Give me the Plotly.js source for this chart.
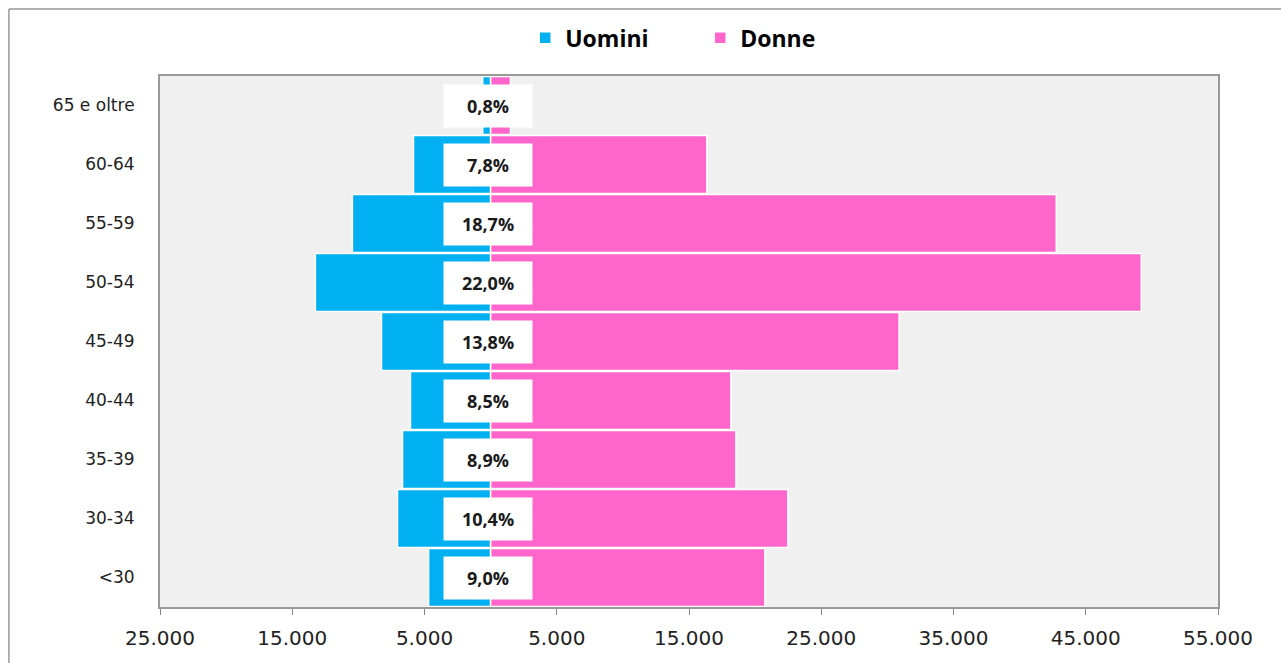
<!DOCTYPE html>
<html>
<head>
<meta charset="utf-8">
<script src="https://cdn.plot.ly/plotly-3.0.1.min.js"></script>
<style>html,body{margin:0;padding:0;background:#fff;}#chart{width:1281px;height:663px;}</style>
</head>
<body>
<div id="chart"></div>
<script>
// Categories bottom to top
const categories = ["<30", "30-34", "35-39", "40-44", "45-49", "50-54", "55-59", "60-64", "65 e oltre"];
const uomini = [4690, 7040, 6660, 6060, 8250, 13250, 10450, 5830, 600];
const donne = [20740, 22480, 18550, 18170, 30890, 49200, 42770, 16350, 1500];
const percentuali = ["9,0%", "10,4%", "8,9%", "8,5%", "13,8%", "22,0%", "18,7%", "7,8%", "0,8%"];
const tickVals = [-25000, -15000, -5000, 5000, 15000, 25000, 35000, 45000, 55000];
const tickText = ["25.000", "15.000", "5.000", "5.000", "15.000", "25.000", "35.000", "45.000", "55.000"];

const FONT = "Open Sans, Noto Sans, sans-serif";
const TICKFONT = "DejaVu Sans, Noto Sans, sans-serif";

const traces = [
  {
    type: "bar", orientation: "h", name: "<b>Uomini</b>",
    y: categories, x: uomini.map(v => -v),
    marker: {color: "#00B0F0", line: {color: "#ffffff", width: 1.5}},
    hoverinfo: "skip"
  },
  {
    type: "bar", orientation: "h", name: "<b>Donne</b>",
    y: categories, x: donne,
    marker: {color: "#FF66CC", line: {color: "#ffffff", width: 1.5}},
    hoverinfo: "skip"
  }
];

const annotations = categories.map((c, i) => ({
  x: 0, y: c, xref: "x", yref: "y",
  text: "<b>" + percentuali[i] + "</b>",
  showarrow: false,
  xanchor: "center", yanchor: "middle",
  xshift: -3,
  bgcolor: "#ffffff",
  width: 86, height: 40,
  font: {family: FONT, size: 18, color: "#1a1a1a"}
}));

const layout = {
  width: 1281, height: 663,
  margin: {l: 160, r: 63, t: 76, b: 56},
  paper_bgcolor: "#ffffff",
  plot_bgcolor: "#f0f0f0",
  barmode: "relative",
  bargap: 0.015,
  showlegend: true,
  legend: {
    orientation: "h", x: 0.41, xanchor: "left", xref: "container",
    y: 0.943, yanchor: "middle", yref: "container",
    bgcolor: "rgba(0,0,0,0)",
    font: {family: FONT, size: 23, color: "#000"},
    itemwidth: 30, traceorder: "normal",
    entrywidth: 130, entrywidthmode: "pixels"
  },
  xaxis: {
    range: [-25000, 55000],
    tickvals: tickVals, ticktext: tickText,
    ticks: "outside", ticklen: 6, tickcolor: "#888", tickwidth: 1,
    ticklabelstandoff: 6,
    showgrid: false, zeroline: true, zerolinecolor: "#8a8a8a", zerolinewidth: 1.5,
    showline: true, linecolor: "#9a9a9a", linewidth: 2, mirror: true,
    tickfont: {family: TICKFONT, size: 20, color: "#222"},
    fixedrange: true
  },
  yaxis: {
    categoryorder: "array", categoryarray: categories,
    showgrid: false, zeroline: false,
    showline: true, linecolor: "#9a9a9a", linewidth: 2, mirror: true,
    ticks: "", ticklabelstandoff: 20,
    tickfont: {family: TICKFONT, size: 17, color: "#222"},
    fixedrange: true
  },
  annotations: annotations,
  shapes: [
    {type: "line", xref: "paper", yref: "paper", x0: -0.1428, x1: 1.2, y0: 1.1264, y1: 1.1264, line: {color: "#999", width: 1.5}},
    {type: "line", xref: "paper", yref: "paper", x0: -0.1428, x1: -0.1428, y0: 1.1264, y1: -0.2, line: {color: "#999", width: 1.5}}
  ]
};

Plotly.newPlot("chart", traces, layout, {displayModeBar: false, staticPlot: true});
</script>
</body>
</html>
